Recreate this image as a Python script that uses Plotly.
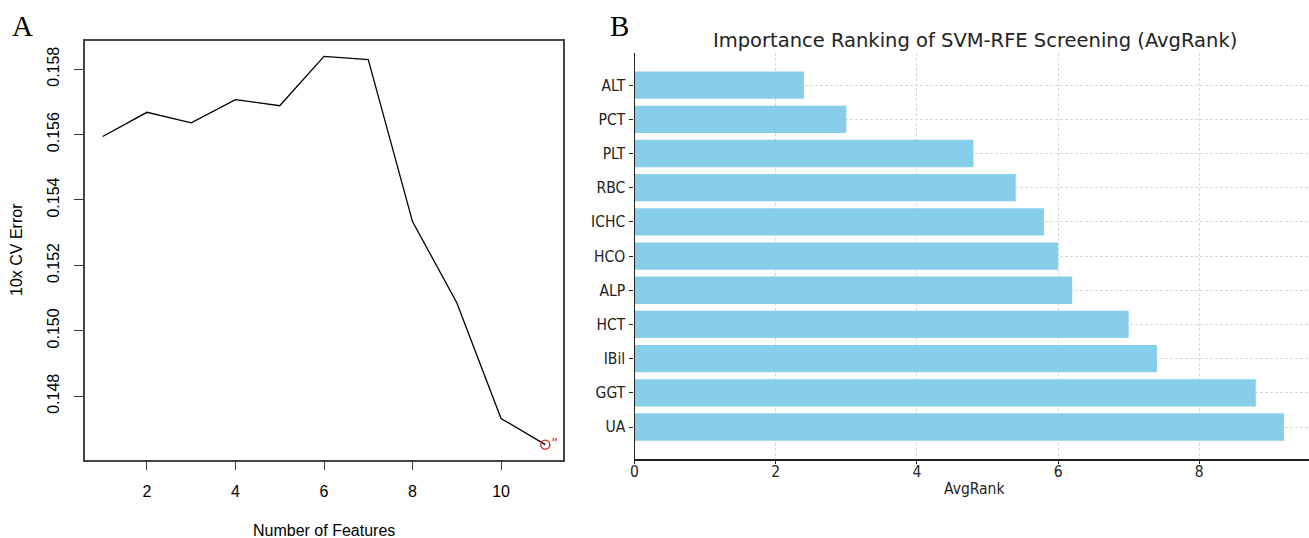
import plotly.graph_objects as go

# ---- Panel A data ----
n_features = [1, 2, 3, 4, 5, 6, 7, 8, 9, 10, 11]
cv_error = [0.15594, 0.15668, 0.15636, 0.15707, 0.15688, 0.15839, 0.15829,
            0.15334, 0.15086, 0.14732, 0.14652]
a_xticks = [2, 4, 6, 8, 10]
a_yticks = [0.148, 0.150, 0.152, 0.154, 0.156, 0.158]
a_yticklabels = ["0.148", "0.150", "0.152", "0.154", "0.156", "0.158"]

# ---- Panel B data (top to bottom) ----
features = ["ALT", "PCT", "PLT", "RBC", "ICHC", "HCO", "ALP", "HCT", "IBil", "GGT", "UA"]
avg_rank = [2.4, 3.0, 4.8, 5.4, 5.8, 6.0, 6.2, 7.0, 7.4, 8.8, 9.2]
b_xticks = [0, 2, 4, 6, 8]

W, H = 1309, 538

def px_x(p):
    return p / W

def px_y(p):
    return 1 - p / H

fig = go.Figure()

# Panel A line
fig.add_trace(go.Scatter(
    x=n_features, y=cv_error, mode="lines",
    line=dict(color="black", width=1.3),
    xaxis="x", yaxis="y", showlegend=False, hoverinfo="skip"))

# Best point (minimum error)
best_i = cv_error.index(min(cv_error))
fig.add_trace(go.Scatter(
    x=[n_features[best_i]], y=[cv_error[best_i]], mode="markers+text",
    marker=dict(symbol="circle-open", size=9, color="#e0201b", line=dict(width=1.4)),
    text=['"'], textposition="middle right",
    textfont=dict(family="Liberation Sans", size=15, color="#e0201b"),
    xaxis="x", yaxis="y", showlegend=False, hoverinfo="skip"))

# Panel B bars
fig.add_trace(go.Bar(
    x=avg_rank, y=features, orientation="h", width=0.8,
    marker=dict(color="#87CEEB", line=dict(width=0)),
    xaxis="x2", yaxis="y2", showlegend=False, hoverinfo="skip"))

a_font = dict(family="Liberation Sans", size=16, color="black")
b_font = dict(family="DejaVu Sans Condensed, DejaVu Sans", size=15.5, color="#222222")
grid_dash = "3px,2px"

fig.update_layout(
    width=W, height=H,
    margin=dict(l=0, r=0, t=0, b=0),
    paper_bgcolor="white", plot_bgcolor="white",
    xaxis=dict(
        domain=[px_x(85), px_x(563)], range=[0.6, 11.4],
        tickvals=a_xticks, ticks="outside", ticklen=8, tickwidth=1.2, tickcolor="#333",
        showline=True, mirror=True, linecolor="#444", linewidth=1.5,
        showgrid=False, zeroline=False, tickfont=a_font, automargin=False,
        ticklabelstandoff=8, anchor="y"),
    yaxis=dict(
        domain=[px_y(460), px_y(41)], range=[0.14605, 0.15886],
        tickvals=a_yticks, ticktext=a_yticklabels, tickangle=-90,
        ticks="outside", ticklen=9, tickwidth=1.2, tickcolor="#333",
        showline=True, mirror=True, linecolor="#444", linewidth=1.5,
        showgrid=False, zeroline=False, tickfont=a_font, automargin=False,
        ticklabelstandoff=9, anchor="x"),
    xaxis2=dict(
        domain=[px_x(634.5), 1.0], range=[0, 9.554],
        tickvals=b_xticks, ticks="outside", ticklen=3, tickwidth=1, tickcolor="#222",
        showline=True, mirror=False, linecolor="#222", linewidth=1.6,
        showgrid=True, gridcolor="#d9d9d9", griddash=grid_dash, gridwidth=0.8,
        zeroline=False, tickfont=b_font, automargin=False, anchor="y2",
        ticklabelstandoff=-5),
    yaxis2=dict(
        domain=[px_y(459), px_y(53)], range=[-0.936, 10.94],
        type="category", categoryorder="array", categoryarray=features[::-1],
        ticks="outside", ticklen=4, tickwidth=1, tickcolor="#222",
        showline=True, mirror=False, linecolor="#222", linewidth=1.4,
        showgrid=True, gridcolor="#d9d9d9", griddash=grid_dash, gridwidth=0.8,
        zeroline=False, tickfont=b_font, automargin=False, anchor="x2",
        ticklabelstandoff=1),
    bargap=0.2,
)

annotations = [
    # Panel A axis titles
    dict(text="Number of Features", x=px_x(324), y=px_y(530), xref="paper", yref="paper",
         showarrow=False, font=a_font, xanchor="center", yanchor="middle"),
    dict(text="10x CV Error", x=px_x(16), y=px_y(250), xref="paper", yref="paper",
         showarrow=False, font=a_font, textangle=-90, xanchor="center", yanchor="middle"),
    # Panel B title and x title
    dict(text="Importance Ranking of SVM-RFE Screening (AvgRank)", x=px_x(975), y=px_y(40),
         xref="paper", yref="paper", showarrow=False,
         font=dict(family="DejaVu Sans", size=19.5, color="#222222"),
         xanchor="center", yanchor="middle"),
    dict(text="AvgRank", x=px_x(975), y=px_y(489), xref="paper", yref="paper",
         showarrow=False, font=dict(family="DejaVu Sans Condensed, DejaVu Sans", size=15.5, color="#222222"),
         xanchor="center", yanchor="middle"),
    # Panel letters
    dict(text="A", x=px_x(22), y=px_y(26), xref="paper", yref="paper", showarrow=False,
         font=dict(family="Liberation Serif", size=29, color="black"),
         xanchor="center", yanchor="middle"),
    dict(text="B", x=px_x(619), y=px_y(26), xref="paper", yref="paper", showarrow=False,
         font=dict(family="Liberation Serif", size=29, color="black"),
         xanchor="center", yanchor="middle"),
]
fig.update_layout(annotations=annotations)

fig.write_html("out.html", config={"displayModeBar": False},
               post_script="document.body.style.margin='0';document.body.style.overflow='hidden';")
